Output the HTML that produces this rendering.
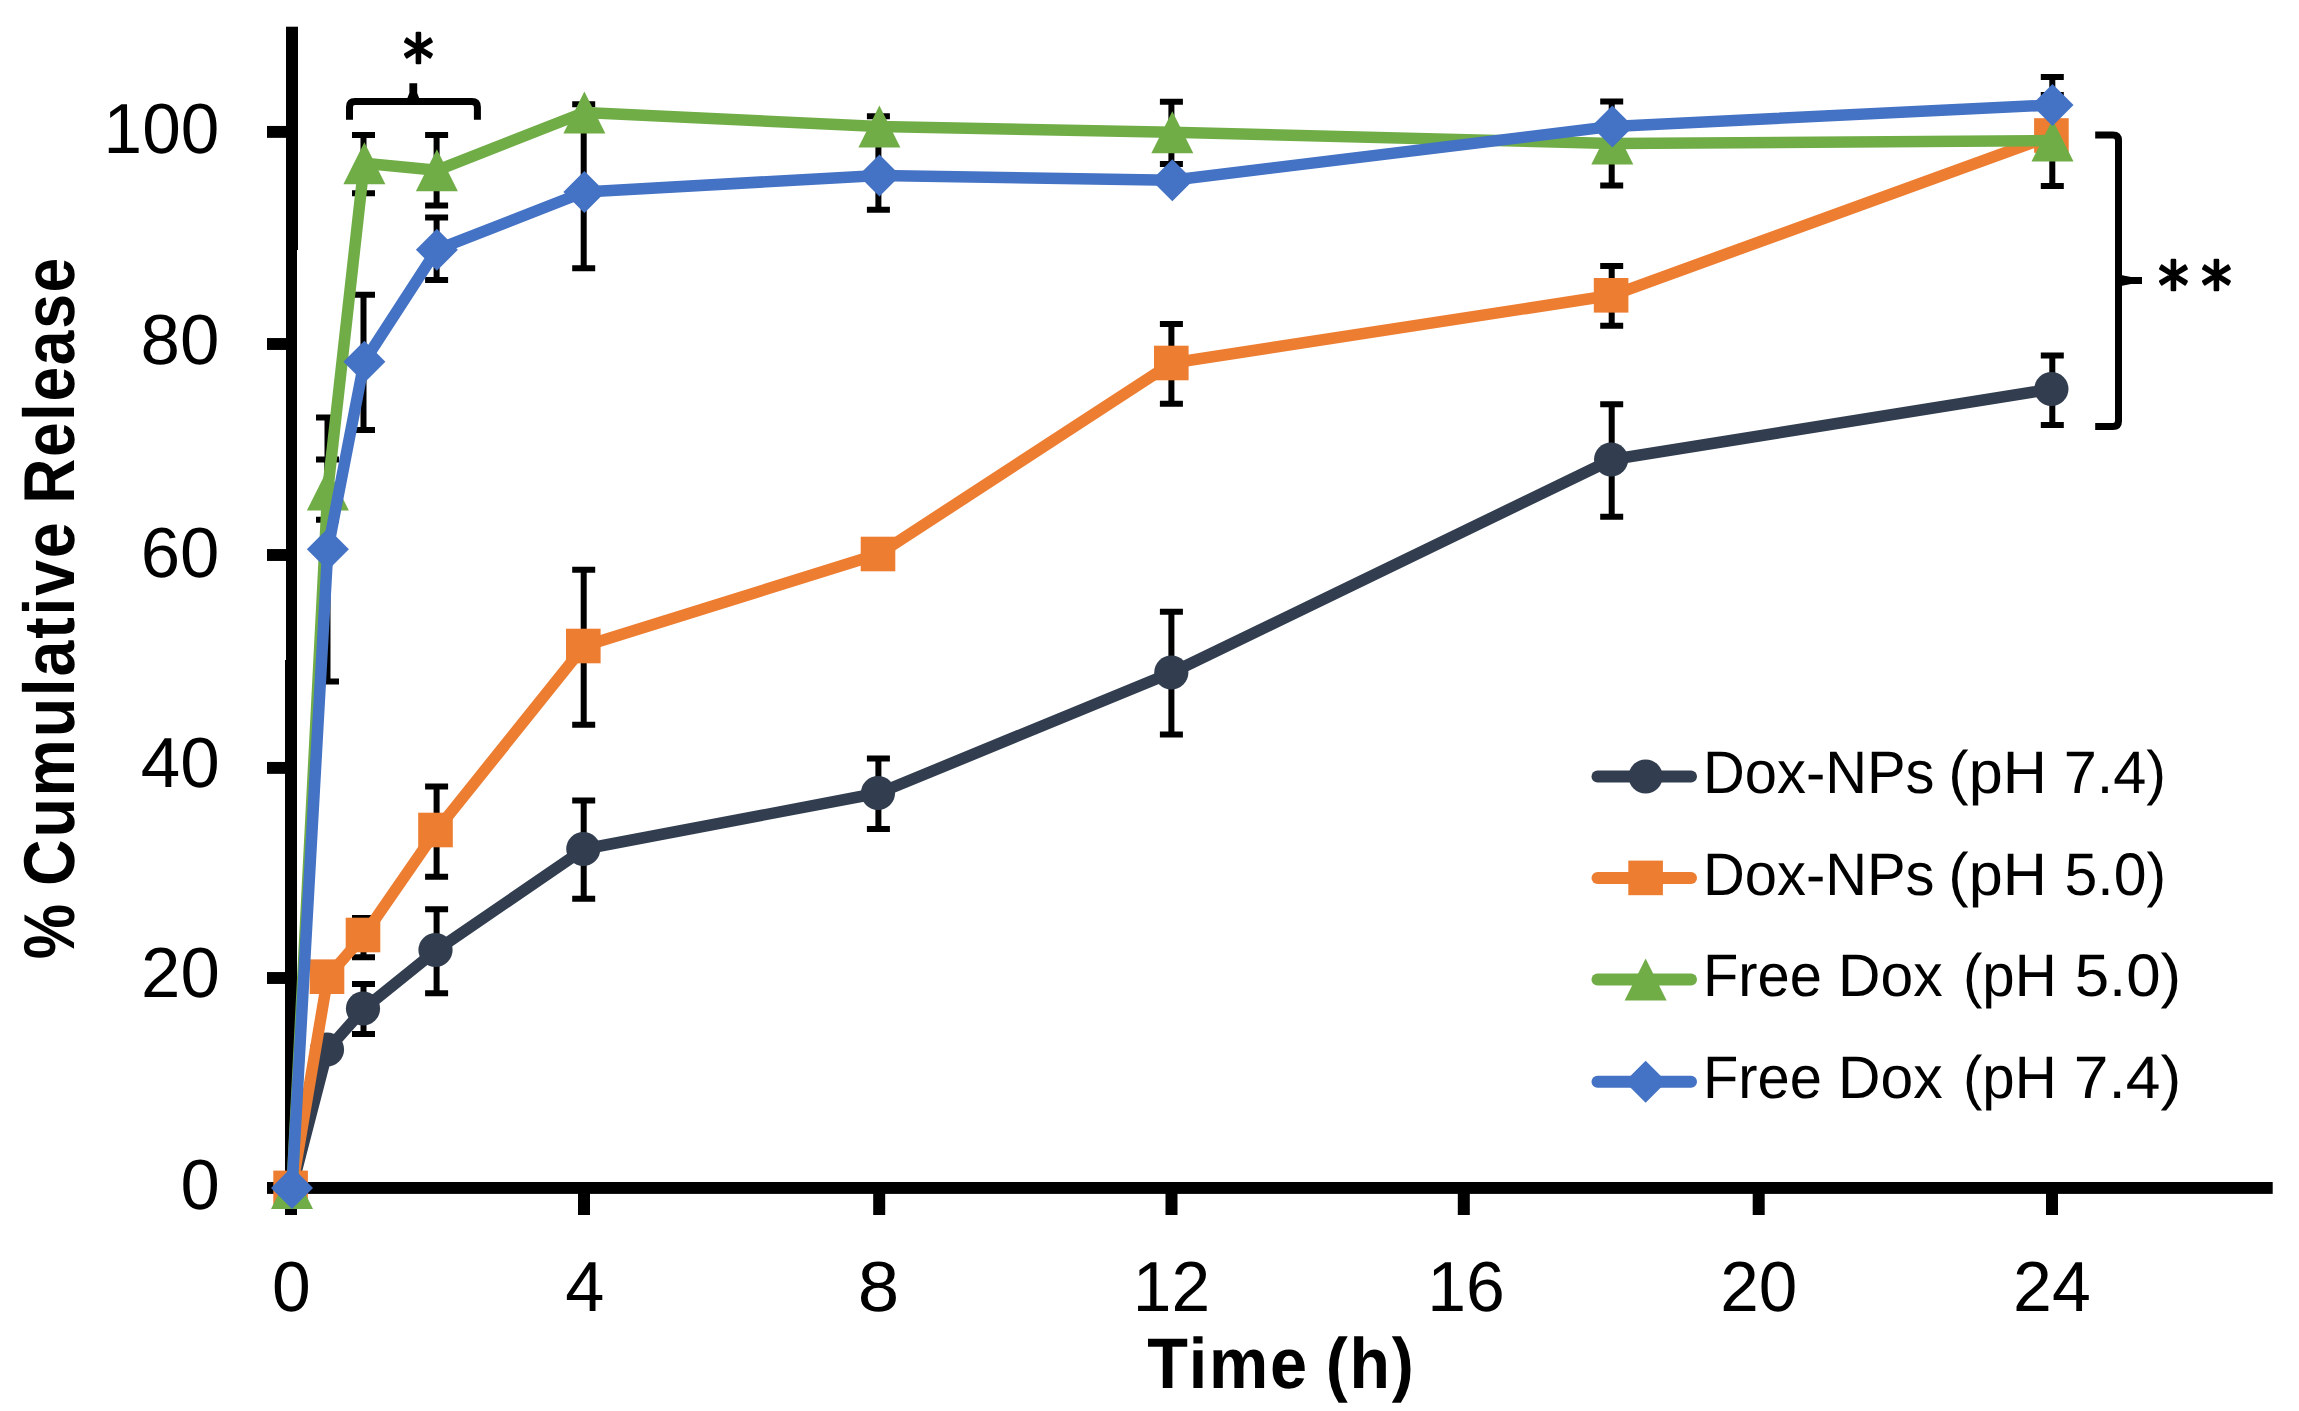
<!DOCTYPE html>
<html lang="en"><head><meta charset="utf-8"><title>Cumulative Release Chart</title>
<style>html,body{margin:0;padding:0;background:#fff;}body{width:2299px;height:1411px;overflow:hidden;}svg{display:block;}text{font-family:"Liberation Sans",sans-serif;fill:#000;text-rendering:geometricPrecision;}.b{font-weight:bold;}.ast text{font-family:"DejaVu Sans","Liberation Sans",sans-serif;}</style></head><body>
<svg width="2299" height="1411" viewBox="0 0 2299 1411">
<rect x="0" y="0" width="2299" height="1411" fill="#ffffff"/>
<g id="axes" fill="#000">
<rect x="286" y="26.7" width="12" height="223.3"/>
<rect x="286" y="250" width="11" height="410"/>
<rect x="285" y="660" width="12" height="555"/>
<rect x="267" y="1182" width="2005.7" height="11.9"/>
<rect x="267" y="125.95" width="22" height="11.9"/>
<rect x="267" y="338.05" width="22" height="11.9"/>
<rect x="267" y="549.05" width="22" height="11.9"/>
<rect x="267" y="761.95" width="22" height="11.9"/>
<rect x="267" y="972.05" width="22" height="11.9"/>
<rect x="578.0" y="1187" width="12" height="28"/>
<rect x="873.2" y="1187" width="12" height="28"/>
<rect x="1165.5" y="1187" width="12" height="28"/>
<rect x="1457.8" y="1187" width="12" height="28"/>
<rect x="1752.7" y="1187" width="12" height="28"/>
<rect x="2046.0" y="1187" width="12" height="28"/>
</g>
<g id="errorbars" stroke="#000" stroke-width="6" fill="none">
<path d="M363.5 984.0V1033.9M352.0 984.0H375.0M352.0 1033.9H375.0"/>
<path d="M436.6 909.3V993.3M425.1 909.3H448.1M425.1 993.3H448.1"/>
<path d="M583.7 800.6V898.7M572.2 800.6H595.2M572.2 898.7H595.2"/>
<path d="M878.4 758.6V829.1M866.9 758.6H889.9M866.9 829.1H889.9"/>
<path d="M1171.4 611.8V734.6M1159.9 611.8H1182.9M1159.9 734.6H1182.9"/>
<path d="M1611.7 404.3V516.8M1600.2 404.3H1623.2M1600.2 516.8H1623.2"/>
<path d="M2052.3 355.5V425.0M2040.8 355.5H2063.8M2040.8 425.0H2063.8"/>
<path d="M363.5 918.0V957.3M352.0 918.0H375.0M352.0 957.3H375.0"/>
<path d="M436.6 786.4V876.7M425.1 786.4H448.1M425.1 876.7H448.1"/>
<path d="M583.7 569.7V724.8M572.2 569.7H595.2M572.2 724.8H595.2"/>
<path d="M1171.4 324.1V403.8M1159.9 324.1H1182.9M1159.9 403.8H1182.9"/>
<path d="M1611.7 266.0V325.8M1600.2 266.0H1623.2M1600.2 325.8H1623.2"/>
<path d="M327.5 459.4V519.7M316.0 459.4H339.0M316.0 519.7H339.0"/>
<path d="M363.5 135.0V193.2M352.0 135.0H375.0M352.0 193.2H375.0"/>
<path d="M436.6 135.0V205.6M425.1 135.0H448.1M425.1 205.6H448.1"/>
<path d="M878.4 116.3V136.7M866.9 116.3H889.9M866.9 136.7H889.9"/>
<path d="M1171.4 101.8V164.0M1159.9 101.8H1182.9M1159.9 164.0H1182.9"/>
<path d="M1611.7 101.6V185.6M1600.2 101.6H1623.2M1600.2 185.6H1623.2"/>
<path d="M2052.3 95.0V186.0M2040.8 95.0H2063.8M2040.8 186.0H2063.8"/>
<path d="M327.5 417.6V681.4M316.0 417.6H339.0M316.0 681.4H339.0"/>
<path d="M363.5 294.7V429.9M352.0 294.7H375.0M352.0 429.9H375.0"/>
<path d="M436.6 217.6V280.0M425.1 217.6H448.1M425.1 280.0H448.1"/>
<path d="M583.7 104.2V268.2M572.2 104.2H595.2M572.2 268.2H595.2"/>
<path d="M878.4 141.0V209.8M866.9 141.0H889.9M866.9 209.8H889.9"/>
<path d="M2052.3 77.0V133.0M2040.8 77.0H2063.8M2040.8 133.0H2063.8"/>
</g>
<g id="s1">
<polyline points="292.0,1187.9 327.8,1049.5 364.2,1008.5 436.8,950.0 584.3,849.0 879.0,793.0 1172.0,672.5 1612.1,459.5 2052.3,389.0" fill="none" stroke="#323E4F" stroke-width="11.5" stroke-linejoin="round" stroke-linecap="round"/>
<circle cx="290.6" cy="1187.9" r="17.1" fill="#323E4F"/>
<circle cx="327.0" cy="1049.5" r="17.1" fill="#323E4F"/>
<circle cx="363.0" cy="1008.5" r="17.1" fill="#323E4F"/>
<circle cx="435.5" cy="950.0" r="17.1" fill="#323E4F"/>
<circle cx="583.3" cy="849.0" r="17.1" fill="#323E4F"/>
<circle cx="878.0" cy="793.0" r="17.1" fill="#323E4F"/>
<circle cx="1171.3" cy="672.5" r="17.1" fill="#323E4F"/>
<circle cx="1611.1" cy="459.5" r="17.1" fill="#323E4F"/>
<circle cx="2051.4" cy="389.0" r="17.1" fill="#323E4F"/>
</g>
<g id="s2">
<polyline points="292.0,1187.9 327.8,976.7 364.2,935.0 436.8,830.0 584.3,646.0 879.0,554.0 1172.0,363.0 1612.1,295.3 2052.3,135.5" fill="none" stroke="#ED7D31" stroke-width="11.5" stroke-linejoin="round" stroke-linecap="round"/>
<rect x="273.3" y="1170.6" width="34.6" height="34.6" fill="#ED7D31"/>
<rect x="309.7" y="959.4" width="34.6" height="34.6" fill="#ED7D31"/>
<rect x="345.7" y="917.7" width="34.6" height="34.6" fill="#ED7D31"/>
<rect x="418.2" y="812.7" width="34.6" height="34.6" fill="#ED7D31"/>
<rect x="566.0" y="628.7" width="34.6" height="34.6" fill="#ED7D31"/>
<rect x="860.7" y="536.7" width="34.6" height="34.6" fill="#ED7D31"/>
<rect x="1154.0" y="345.7" width="34.6" height="34.6" fill="#ED7D31"/>
<rect x="1593.8" y="278.0" width="34.6" height="34.6" fill="#ED7D31"/>
<rect x="2034.1" y="118.2" width="34.6" height="34.6" fill="#ED7D31"/>
</g>
<g id="s3">
<polyline points="292.0,1187.9 327.8,489.5 364.2,163.3 436.8,170.3 584.3,112.5 879.0,126.5 1172.0,132.3 1612.1,143.5 2052.3,140.6" fill="none" stroke="#70AD47" stroke-width="11.5" stroke-linejoin="round" stroke-linecap="round"/>
<polygon points="292.0,1166.9 313.0,1208.9 271.0,1208.9" fill="#70AD47"/>
<polygon points="327.9,468.5 348.9,510.5 306.9,510.5" fill="#70AD47"/>
<polygon points="364.4,142.3 385.4,184.3 343.4,184.3" fill="#70AD47"/>
<polygon points="436.9,149.3 457.9,191.3 415.9,191.3" fill="#70AD47"/>
<polygon points="584.4,91.5 605.4,133.5 563.4,133.5" fill="#70AD47"/>
<polygon points="879.4,105.5 900.4,147.5 858.4,147.5" fill="#70AD47"/>
<polygon points="1172.3,111.3 1193.3,153.3 1151.3,153.3" fill="#70AD47"/>
<polygon points="1612.3,122.5 1633.3,164.5 1591.3,164.5" fill="#70AD47"/>
<polygon points="2052.5,119.6 2073.5,161.6 2031.5,161.6" fill="#70AD47"/>
</g>
<g id="s4">
<polyline points="292.0,1187.9 327.8,549.3 364.2,361.7 436.8,249.7 584.3,192.0 879.0,175.4 1172.0,180.2 1612.1,126.4 2052.3,104.9" fill="none" stroke="#4472C4" stroke-width="11.5" stroke-linejoin="round" stroke-linecap="round"/>
<polygon points="292.0,1166.9 313.0,1187.9 292.0,1208.9 271.0,1187.9" fill="#4472C4"/>
<polygon points="327.9,528.3 348.9,549.3 327.9,570.3 306.9,549.3" fill="#4472C4"/>
<polygon points="364.4,340.7 385.4,361.7 364.4,382.7 343.4,361.7" fill="#4472C4"/>
<polygon points="436.9,228.7 457.9,249.7 436.9,270.7 415.9,249.7" fill="#4472C4"/>
<polygon points="584.4,171.0 605.4,192.0 584.4,213.0 563.4,192.0" fill="#4472C4"/>
<polygon points="879.4,154.4 900.4,175.4 879.4,196.4 858.4,175.4" fill="#4472C4"/>
<polygon points="1172.3,159.2 1193.3,180.2 1172.3,201.2 1151.3,180.2" fill="#4472C4"/>
<polygon points="1612.3,105.4 1633.3,126.4 1612.3,147.4 1591.3,126.4" fill="#4472C4"/>
<polygon points="2052.5,83.9 2073.5,104.9 2052.5,125.9 2031.5,104.9" fill="#4472C4"/>
</g>
<g id="braces" fill="none" stroke="#000" stroke-width="7" stroke-linejoin="round">
<path d="M349.5 119.8V106.9Q349.5 101.4 355 101.4H471.9Q477.4 101.4 477.4 106.9V119.8"/>
<path d="M2095.2 135H2113Q2118.5 135 2118.5 140.5V420.9Q2118.5 426.4 2113 426.4H2095.2"/>
</g>
<g id="bracetips" fill="#000">
<polygon points="409.4,83.2 417.2,83.2 417.2,93 419.5,99 407,99 409.4,93"/>
<polygon points="2142,277 2142,284 2131,284 2121,286 2121,275 2131,277"/>
</g>
<g id="stars" class="ast" font-size="66" text-anchor="middle" stroke="#000" stroke-width="2.4" stroke-linejoin="round">
<text transform="translate(418.45 81.85) scale(0.92 1)">*</text>
<text transform="translate(2173.45 309.00) scale(0.92 1)">*</text>
<text transform="translate(2216.50 309.00) scale(0.92 1)">*</text>
</g>
<g id="ylabels">
<text transform="translate(103.61 153.20) scale(0.9755 1)" font-size="71">100</text>
<text transform="translate(140.49 363.60) scale(0.9982 1)" font-size="71">80</text>
<text transform="translate(140.66 576.80) scale(0.9959 1)" font-size="71">60</text>
<text transform="translate(140.80 787.30) scale(0.9993 1)" font-size="71">40</text>
<text transform="translate(141.06 996.90) scale(0.9959 1)" font-size="71">20</text>
<text transform="translate(180.38 1209.00) scale(0.9940 1)" font-size="71">0</text>
</g>
<g id="xlabels">
<text transform="translate(272.12 1311.30) scale(0.9793 1)" font-size="71">0</text>
<text transform="translate(565.22 1311.30) scale(0.9901 1)" font-size="71">4</text>
<text transform="translate(857.74 1311.30) scale(1.0488 1)" font-size="71">8</text>
<text transform="translate(1132.78 1311.30) scale(0.9795 1)" font-size="71">12</text>
<text transform="translate(1427.17 1311.30) scale(0.9820 1)" font-size="71">16</text>
<text transform="translate(1720.24 1311.30) scale(0.9752 1)" font-size="71">20</text>
<text transform="translate(2013.11 1311.30) scale(0.9835 1)" font-size="71">24</text>
</g>
<g id="xtitle">
<text class="b" transform="translate(1147.33 1387.90) scale(0.9312 1)" font-size="71.5" letter-spacing="2">Time</text>
<text class="b" transform="translate(1325.69 1387.90) scale(0.9253 1)" font-size="71.5" letter-spacing="2">(h)</text>
</g>
<g id="ytitle">
<text class="b" transform="translate(73.60 959.16) rotate(-90) scale(0.8640 1)" font-size="72">%</text>
<text class="b" transform="translate(73.60 885.98) rotate(-90) scale(0.8956 1)" font-size="72" letter-spacing="2">Cumulative</text>
<text class="b" transform="translate(73.60 503.81) rotate(-90) scale(0.8658 1)" font-size="72" letter-spacing="2">Release</text>
</g>
<g id="legend">
<line x1="1597.5" y1="776.5" x2="1691" y2="776.5" stroke="#323E4F" stroke-width="12" stroke-linecap="round"/>
<circle cx="1645.6" cy="776.5" r="17.1" fill="#323E4F"/>
<text transform="translate(1703.03 792.60) scale(0.9646 1)" font-size="60">Dox-NPs</text>
<text transform="translate(1948.28 792.60) scale(1.0199 1)" font-size="60">(pH</text>
<text transform="translate(2063.78 792.60) scale(0.9902 1)" font-size="60">7.4)</text>
<line x1="1597.5" y1="877.9" x2="1691" y2="877.9" stroke="#ED7D31" stroke-width="12" stroke-linecap="round"/>
<rect x="1628.3" y="860.6" width="34.6" height="34.6" fill="#ED7D31"/>
<text transform="translate(1703.03 894.90) scale(0.9646 1)" font-size="60">Dox-NPs</text>
<text transform="translate(1948.28 894.90) scale(1.0199 1)" font-size="60">(pH</text>
<text transform="translate(2064.54 894.90) scale(0.9825 1)" font-size="60">5.0)</text>
<line x1="1597.5" y1="979.6" x2="1691" y2="979.6" stroke="#70AD47" stroke-width="12" stroke-linecap="round"/>
<polygon points="1645.6,958.6 1666.6,1000.6 1624.6,1000.6" fill="#70AD47"/>
<text transform="translate(1703.03 995.90) scale(0.9637 1)" font-size="60">Free</text>
<text transform="translate(1838.05 995.90) scale(0.9797 1)" font-size="60">Dox</text>
<text transform="translate(1962.96 995.90) scale(0.9710 1)" font-size="60">(pH</text>
<text transform="translate(2074.63 995.90) scale(1.0298 1)" font-size="60">5.0)</text>
<line x1="1597.5" y1="1081.7" x2="1691" y2="1081.7" stroke="#4472C4" stroke-width="12" stroke-linecap="round"/>
<polygon points="1645.6,1060.7 1666.6,1081.7 1645.6,1102.7 1624.6,1081.7" fill="#4472C4"/>
<text transform="translate(1703.03 1097.70) scale(0.9637 1)" font-size="60">Free</text>
<text transform="translate(1838.05 1097.70) scale(0.9797 1)" font-size="60">Dox</text>
<text transform="translate(1962.96 1097.70) scale(0.9710 1)" font-size="60">(pH</text>
<text transform="translate(2073.83 1097.70) scale(1.0378 1)" font-size="60">7.4)</text>
</g>
</svg></body></html>
